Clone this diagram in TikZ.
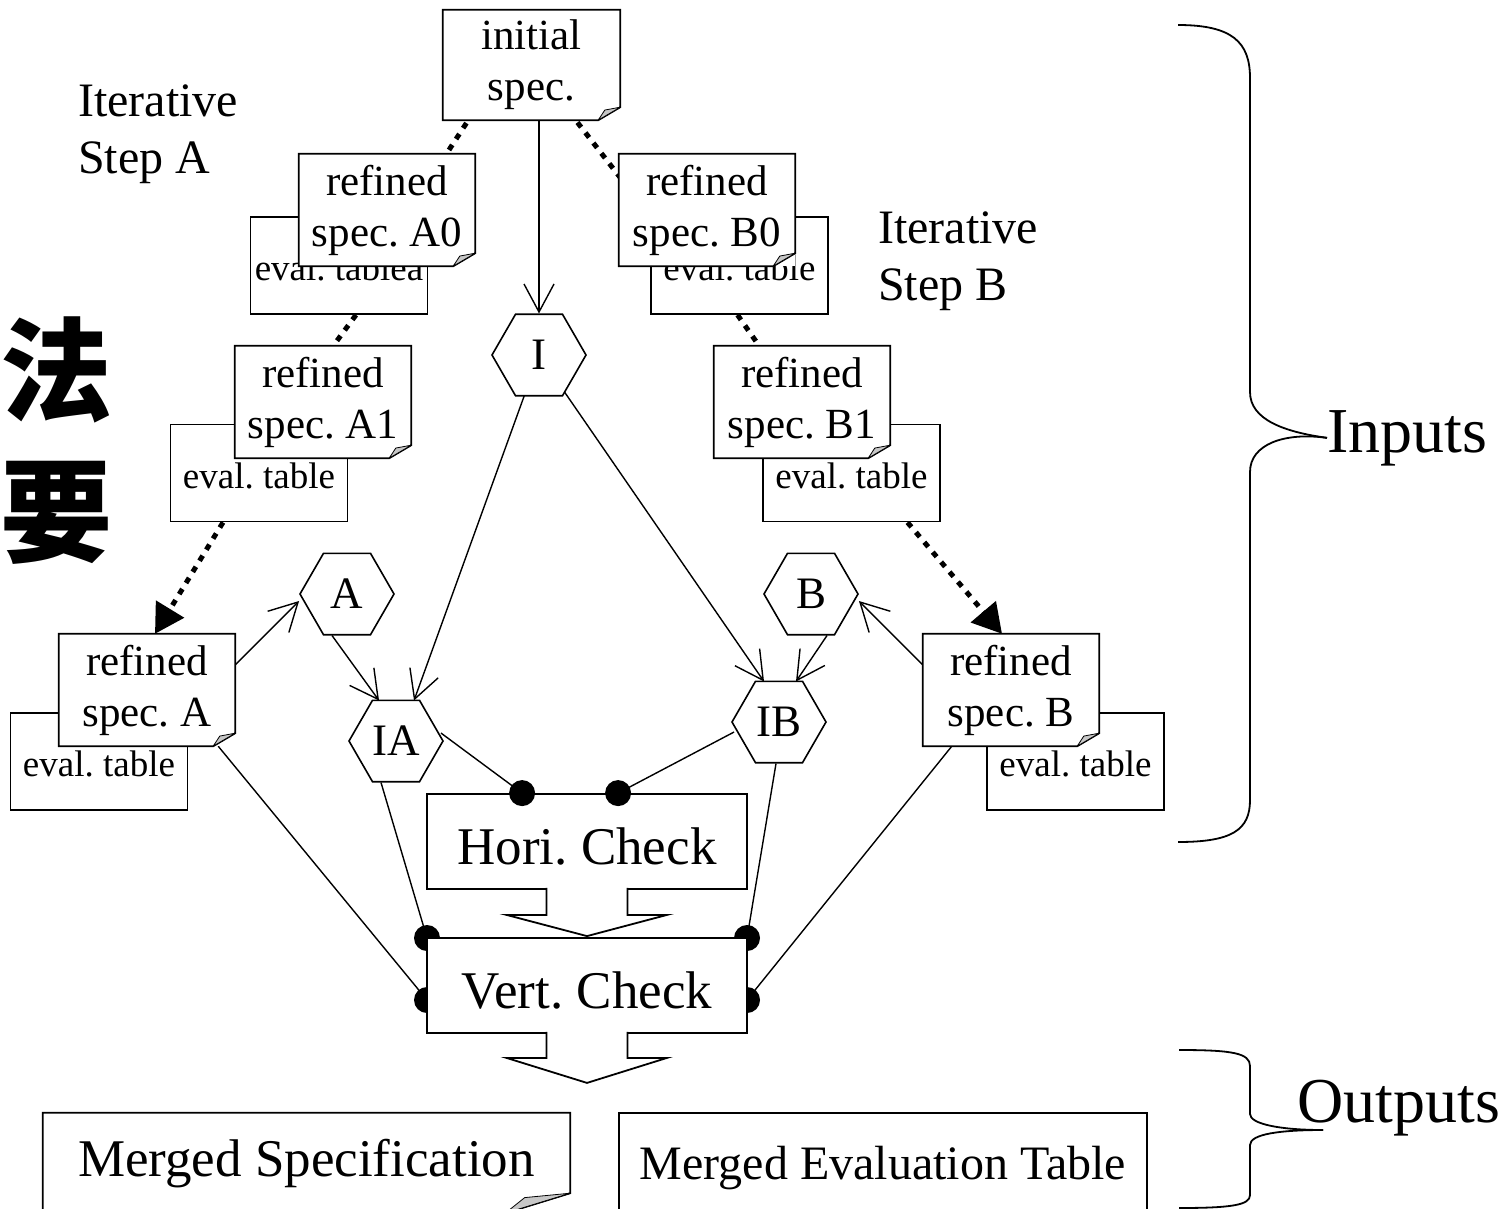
\documentclass[tikz,border=0pt]{standalone}
\usepackage{fontspec}
\setmainfont{Liberation Serif}
\newfontfamily\cjk{Noto Sans CJK SC}
\usetikzlibrary{arrows.meta,shapes.geometric,calc}
\pgfdeclarelayer{background}
\pgfsetlayers{background,main}
\frenchspacing

% document outline with a curled bottom-right corner
\newcommand\docframe[3]{%
  \draw[boxline] (#1.south west) -- (#1.north west) -- (#1.north east)
    -- ($(#1.south east)+(0,-#3)$) -- ($(#1.south east)+(-#2,0)$) -- cycle;
  \filldraw[fill=black!22, line width=0.8pt, line join=round]
    ($(#1.south east)+(-#2,0)$) -- ($(#1.south east)+(0,-#3)$)
    -- ($(#1.south east)+(-0.7*#2,-0.78*#3)$) -- cycle;}

\tikzset{
  boxline/.style={line width=1.8pt, line join=miter},
  docnode/.style={rectangle, fill=white, inner sep=0pt, align=center,
    minimum width=176pt, minimum height=112pt, font=\fontsize{43}{51}\selectfont},
  backnode/.style={rectangle, draw, line width=1.8pt, fill=white, inner sep=0pt,
    minimum width=177pt, minimum height=97pt, text height=31pt,
    font=\fontsize{37}{44}\selectfont},
  hexnode/.style={regular polygon, regular polygon sides=6, minimum size=94pt,
    inner sep=0pt, draw, line width=1.6pt, fill=white, font=\fontsize{45}{54}\selectfont},
  checknode/.style={rectangle, draw, line width=1.8pt, fill=white, inner sep=0pt,
    minimum width=320pt, minimum height=95pt, font=\fontsize{53}{64}\selectfont},
  conn/.style={line width=1.4pt},
  opentip/.style={-{Straight Barb[length=28pt,width=30pt]}},
  dotline/.style={line width=5pt, dash pattern=on 6pt off 7pt},
  bigtip/.style={-{Triangle[length=29pt,width=32pt]}},
  dotnode/.style={circle, fill=black, inner sep=0pt, minimum size=26pt},
  plain/.style={inner sep=0pt},
  bracestyle/.style={line width=1.8pt},
}

\begin{document}
\begin{tikzpicture}[x=1pt,y=-1pt]
\useasboundingbox (0,0) rectangle (1501,1209);

% evaluation tables lying behind the specifications
\node[backnode] (A0e) at (339,265.5) {eval. tablea};
\node[backnode] (B0e) at (739.5,265.5) {eval. table};
\node[backnode] (A1e) at (259,473) {eval. table};
\node[backnode] (B1e) at (851.5,473) {eval. table};
\node[backnode] (Ae) at (99,761.5) {eval. table};
\node[backnode] (Be) at (1075.5,761.5) {eval. table};

% specifications
\node[docnode, minimum width=177pt, minimum height=110pt] (init) at (531.5,65) {initial\\spec.};
\docframe{init}{22}{13}
\node[docnode] (A0) at (387,210) {refined\\spec. A0};
\docframe{A0}{22}{13}
\node[docnode] (B0) at (707,210) {refined\\spec. B0};
\docframe{B0}{22}{13}
\node[docnode] (A1) at (323,402) {refined\\spec. A1};
\docframe{A1}{22}{13}
\node[docnode] (B1) at (802,402) {refined\\spec. B1};
\docframe{B1}{22}{13}
\node[docnode] (A) at (147,690) {refined\\spec. A};
\docframe{A}{22}{13}
\node[docnode] (B) at (1011,690) {refined\\spec. B};
\docframe{B}{22}{13}

% hexagons
\node[hexnode] (hI) at (539,355) {I};
\node[hexnode] (hA) at (347,594) {A};
\node[hexnode] (hB) at (811,594) {B};
\node[hexnode] (hIA) at (396,741) {IA};
\node[hexnode] (hIB) at (779,722) {IB};

% checks
\node[checknode, text height=47pt] (hori) at (587,841.5) {Hori. Check};
\node[dotnode] (d1) at ($(hori.north west)+(96,0)$) {};
\node[dotnode] (d2) at ($(hori.north west)+(192,0)$) {};

% dots that sit behind the vertical check
\begin{pgfonlayer}{background}
\node[dotnode] (v1) at (427,938) {};
\node[dotnode] (v2) at (747,938) {};
\node[dotnode] (v3) at (427,1000) {};
\node[dotnode] (v4) at (747,1000) {};
\end{pgfonlayer}
\node[checknode, text height=46pt] (vert) at (587,985.5) {Vert. Check};

% block arrows
\filldraw[boxline, fill=white]
  ($(hori.south)+(-40.5,-2)$) -- ++(0,27) -- ++(-40,0) -- ($(vert.north)+(0,-1)$)
  -- ($(hori.south)+(80,25)$) -- ++(-39.5,0) -- ($(hori.south)+(40.5,-2)$);
\coordinate (out) at ($(vert.south)+(0,49)$);
\filldraw[boxline, fill=white]
  ($(vert.south)+(-40.5,-2)$) -- ++(0,26) -- ++(-40,0) -- (out)
  -- ($(vert.south)+(80,24)$) -- ++(-39.5,0) -- ($(vert.south)+(40.5,-2)$);

% outputs
\node[rectangle, fill=white, inner sep=0pt, minimum width=527pt, minimum height=100pt,
  text height=38pt, font=\fontsize{53}{64}\selectfont] (ms) at (306.5,1163) {Merged Specification};
\docframe{ms}{65}{20}
\node[rectangle, draw, line width=1.8pt, fill=white, inner sep=0pt, minimum width=528pt,
  minimum height=104pt, text height=40pt, font=\fontsize{48}{58}\selectfont] (met) at (883,1165) {Merged Evaluation Table};

% labels
\node[plain, anchor=west, align=left, font=\fontsize{48}{57}\selectfont] (stepA) at (78,134.5) {Iterative\\Step A};
\node[plain, anchor=west, align=left, font=\fontsize{48}{57}\selectfont] (stepB) at (878,261.5) {Iterative\\Step B};
\node[plain, anchor=base west, font=\fontsize{64}{76}\selectfont] (inputs) at (1327,452) {Inputs};
\node[plain, anchor=base west, font=\fontsize{64}{76}\selectfont] (outputs) at (1297,1122) {Outputs};
\node[plain, font=\cjk\bfseries\fontsize{112}{120}\selectfont] (c1) at (57,370) {法};
\node[plain, font=\cjk\bfseries\fontsize{112}{120}\selectfont] (c2) at (57,513) {要};

% braces
\draw[bracestyle] (1178,25) .. controls (1232,25) and (1250,42) .. (1250,78) -- (1250,392)
  .. controls (1250,420) and (1285,432) .. (inputs.west);
\draw[bracestyle] (inputs.west) .. controls (1285,432) and (1250,444) .. (1250,472) -- (1250,800)
  .. controls (1250,830) and (1232,842) .. (1178,842);
\draw[bracestyle] (1179,1050) .. controls (1232,1050) and (1250,1053) .. (1250,1066) -- (1250,1114)
  .. controls (1250,1124) and (1280,1130) .. (1323,1130);
\draw[bracestyle] (1323,1130) .. controls (1280,1130) and (1250,1134) .. (1250,1145) -- (1250,1195)
  .. controls (1250,1205) and (1232,1208) .. (1179,1208);

% connectors
\begin{pgfonlayer}{background}
  % refinement chains
  \draw[dotline] ($(init.south)+(-58,-8)$) -- ($(A0e.north)+(67,0)$);
  \draw[dotline] ($(init.south)+(38,-8)$) -- (B0e.north west);
  \draw[dotline] ($(A0e.south)+(17,0)$) -- ($(A1e.north)+(17,0)$);
  \draw[dotline] ($(B0e.south)+(-2,0)$) -- ($(B1e.north)+(-38,0)$);
  \draw[dotline, bigtip] ($(A1e.south)+(-36,0)$) -- ($(A.north)+(8,0)$);
  \draw[dotline, bigtip] ($(B1e.south)+(56,0)$) -- ($(B.north)+(-9,0)$);
  % derivation of the change sets
  \draw[conn, opentip] (hI.north |- init.south) -- (hI.north);
  \draw[conn, opentip] (hI.center) -- ($(hIA.north)+(18,1)$);
  \draw[conn, opentip] (hI.center) -- ($(hIB.north)+(-15,1)$);
  \draw[conn, opentip] ($(A.east)+(0,-25)$) -- ($(hA.west)+(0,7)$);
  \draw[conn, opentip] ($(B.west)+(0,-25)$) -- ($(hB.east)+(0,7)$);
  \draw[conn, opentip] ($(hA.south)+(-15,0)$) -- ($(hIA.north)+(-17,1)$);
  \draw[conn, opentip] ($(hB.south)+(16,0)$) -- ($(hIB.north)+(17,1)$);
  % inputs of the checks
  \draw[conn] ($(hIA.east)+(-3,-8)$) -- (d1.center);
  \draw[conn] ($(hIB.west)+(3,10)$) -- (d2.center);
  \draw[conn] ($(hIA.south)+(-15,0)$) -- (v1.center);
  \draw[conn] ($(hIB.south)+(-3,0)$) -- (v2.center);
  \draw[conn] ($(A.south east)+(-17,0)$) -- (v3.center);
  \draw[conn] ($(B.south west)+(29,0)$) -- (v4.center);
\end{pgfonlayer}
\end{tikzpicture}
\end{document}
